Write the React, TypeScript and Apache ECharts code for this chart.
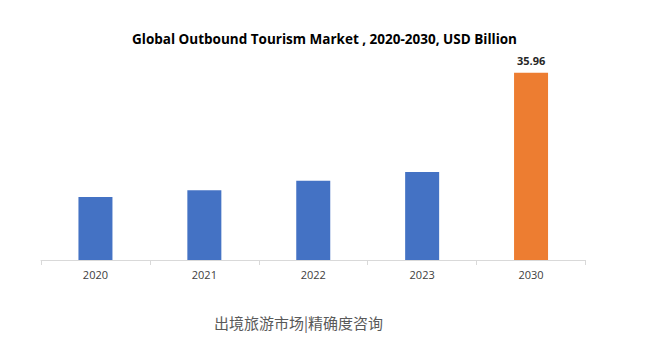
import React, { useEffect, useRef } from "react";
import * as echarts from "echarts";

const categories = ["2020", "2021", "2022", "2023", "2030"];
const values = [12.1, 13.4, 15.2, 16.9, 35.96];
const barColors = ["#4472C4", "#4472C4", "#4472C4", "#4472C4", "#ED7D31"];
const titleText = "Global Outbound Tourism Market , 2020-2030, USD Billion";
const footerText = "出境旅游市场|精确度咨询";

export default function App() {
  const ref = useRef<HTMLDivElement>(null);
  useEffect(() => {
    const chart = echarts.init(ref.current!, null, { renderer: "svg" });
    chart.setOption({
      animation: false,
      backgroundColor: "#ffffff",
      title: {
        text: titleText,
        left: "center",
        top: 27,
        textStyle: {
          fontFamily: "Open Sans",
          fontWeight: "bold",
          fontSize: 13.5,
          color: "#000000",
        },
      },
      grid: { left: 41, right: 63.5, top: 51.6, bottom: 101 },
      xAxis: {
        type: "category",
        data: categories,
        axisLine: { lineStyle: { color: "#d9d9d9", width: 1 } },
        axisTick: { show: true, alignWithLabel: false, length: 5, lineStyle: { color: "#d9d9d9" } },
        axisLabel: { color: "#404040", fontSize: 11, fontFamily: "Open Sans", margin: 9 },
      },
      yAxis: {
        type: "value",
        min: 0,
        max: 40,
        show: false,
        splitLine: { show: false },
      },
      series: [
        {
          type: "bar",
          barWidth: 34,
          data: values.map((v, i) => ({
            value: v,
            itemStyle: { color: barColors[i] },
            label: {
              show: i === values.length - 1,
              position: "top",
              distance: 7,
              color: "#262626",
              fontSize: 11,
              fontWeight: "bold",
              fontFamily: "Open Sans",
            },
          })),
        },
      ],
      graphic: [
        {
          type: "text",
          left: 214,
          top: 315,
          style: {
            text: footerText,
            fontSize: 15,
            fill: "#595959",
            fontFamily: "Noto Sans CJK SC",
          },
        },
      ],
    });
    return () => chart.dispose();
  }, []);
  return (
    <div
      ref={ref}
      style={{ position: "fixed", left: 0, top: 0, width: 649, height: 361 }}
    />
  );
}
